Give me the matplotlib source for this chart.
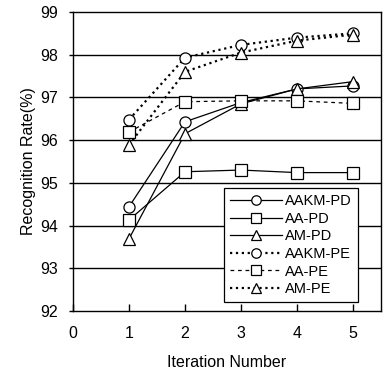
import matplotlib.pyplot as plt

plt.rcParams['font.family'] = ['Liberation Sans', 'DejaVu Sans']

iterations = [1, 2, 3, 4, 5]
aakm_pd = [94.44, 96.43, 96.88, 97.20, 97.27]
aa_pd = [94.13, 95.26, 95.30, 95.24, 95.24]
am_pd = [93.69, 96.15, 96.85, 97.20, 97.37]
aakm_pe = [96.48, 97.93, 98.23, 98.40, 98.50]
aa_pe = [96.19, 96.90, 96.92, 96.92, 96.86]
am_pe = [95.89, 97.60, 98.05, 98.33, 98.47]

fig = plt.figure(figsize=(3.83, 3.73), dpi=100)
ax = fig.add_axes([73 / 383, 1 - 311 / 373, 308 / 383, 299 / 373])

# horizontal grid lines
for v in range(93, 99):
    ax.axhline(v, color='black', lw=1.0, zorder=1)

mk = dict(markersize=8, markerfacecolor='white', markeredgecolor='black',
          markeredgewidth=0.9, color='black', zorder=3)

ax.plot(iterations, aakm_pd, '-', marker='o', lw=0.9, label='AAKM-PD', **mk)
ax.plot(iterations, aa_pd, '-', marker='s', lw=0.9, label='AA-PD', **mk)
ax.plot(iterations, am_pd, '-', marker='^', lw=0.9, label='AM-PD', **mk)
ax.plot(iterations, aakm_pe, ':', marker='o', lw=1.6, label='AAKM-PE', **mk)
ax.plot(iterations, aa_pe, linestyle=(0, (3, 3)), marker='s', lw=0.9, label='AA-PE', **mk)
ax.plot(iterations, am_pe, ':', marker='^', lw=1.6, label='AM-PE', **mk)

ax.set_xlim(0, 5.5)
ax.set_ylim(92, 99)
ax.set_xticks([0, 1, 2, 3, 4, 5])
ax.set_yticks(range(92, 100))
ax.tick_params(axis='x', direction='in', length=5, width=1, labelsize=11.5, pad=11)
ax.tick_params(axis='y', direction='out', length=3, width=1, labelsize=11.5, pad=8)
for s in ax.spines.values():
    s.set_linewidth(1.0)

ax.set_xlabel('Iteration Number', fontsize=11.5, labelpad=10)
ax.set_ylabel('Recognition Rate(%)', fontsize=11.5, labelpad=3)

leg = ax.legend(loc='lower right', bbox_to_anchor=(0.925, 0.03), borderaxespad=0,
                fontsize=10.5, frameon=True, fancybox=False, edgecolor='black',
                framealpha=1, handlelength=3.6, handletextpad=0.2,
                labelspacing=0.25, borderpad=0.4, numpoints=1, markerscale=0.85)
leg.get_frame().set_linewidth(0.9)

plt.savefig('out.png', dpi=100)
